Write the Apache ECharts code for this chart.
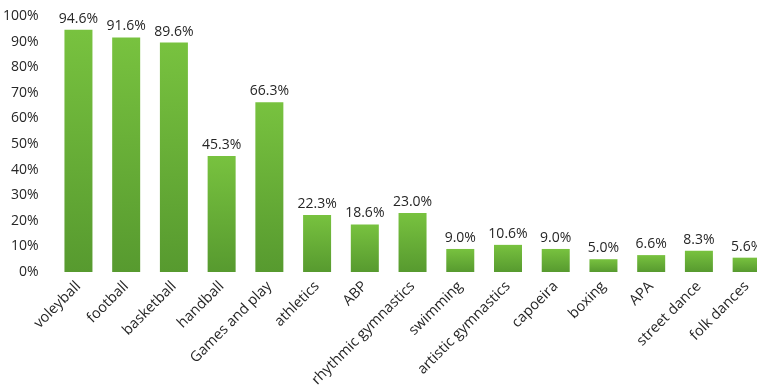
<!DOCTYPE html>
<html>
<head>
<meta charset="utf-8">
<script src="https://cdn.jsdelivr.net/npm/echarts@6/dist/echarts.min.js"></script>
<style>html,body{margin:0;padding:0;background:#fff;overflow:hidden;width:757px;height:390px;}#chart{width:771px;height:390px;}</style>
</head>
<body>
<div id="chart"></div>
<script>
const categories = ["voleyball","football","basketball","handball","Games and play","athletics","ABP","rhythmic gymnastics","swimming","artistic gymnastics","capoeira","boxing","APA","street dance","folk dances"];
const values = [94.6, 91.6, 89.6, 45.3, 66.3, 22.3, 18.6, 23.0, 9.0, 10.6, 9.0, 5.0, 6.6, 8.3, 5.6];
const yTicks = {min: 0, max: 100, interval: 10};

const chart = echarts.init(document.getElementById('chart'), null, {renderer: 'canvas'});
const font = '"Open Sans", "DejaVu Sans", sans-serif';
chart.setOption({
  animation: false,
  grid: {left: 52, top: 16, right: 0.5, bottom: 118, containLabel: false},
  xAxis: {
    type: 'category',
    data: categories,
    axisLine: {show: false},
    axisTick: {show: false},
    axisLabel: {rotate: 45, interval: 0, margin: 12, fontSize: 14.5, color: '#262626', fontFamily: font}
  },
  yAxis: {
    type: 'value',
    min: yTicks.min, max: yTicks.max, interval: yTicks.interval,
    splitLine: {show: false},
    axisLine: {show: false},
    axisTick: {show: false},
    axisLabel: {formatter: '{value}%', margin: 16, fontSize: 14, color: '#262626', fontFamily: font}
  },
  series: [{
    type: 'bar',
    data: values,
    barWidth: 28,
    itemStyle: {
      color: new echarts.graphic.LinearGradient(0, 0, 0, 1, [
        {offset: 0, color: '#78c23f'},
        {offset: 1, color: '#579a2f'}
      ])
    },
    label: {
      show: true, position: 'top', distance: 4,
      formatter: p => p.value.toFixed(1) + '%',
      fontSize: 14, color: '#262626', fontFamily: font
    }
  }]
});
</script>
</body>
</html>
